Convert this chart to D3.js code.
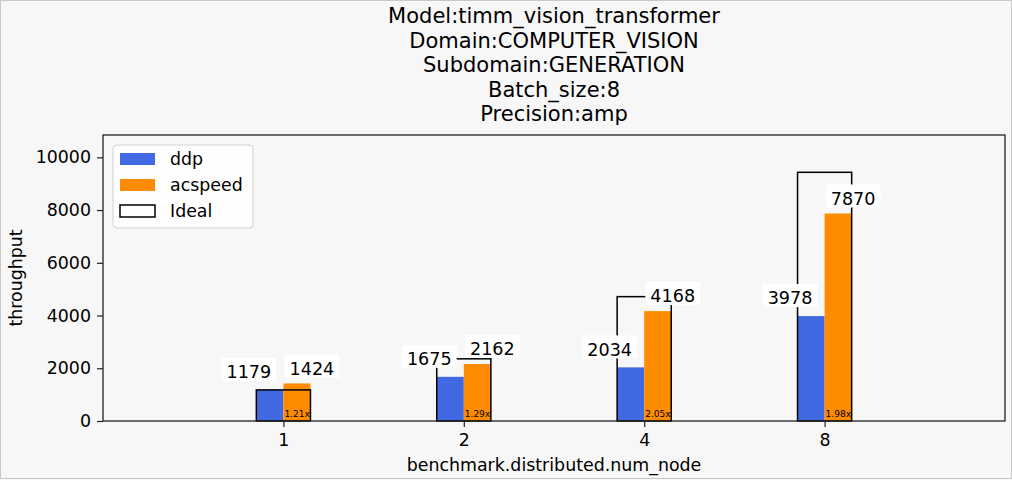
<!DOCTYPE html>
<html><head><meta charset="utf-8">
<script src="https://cdn.jsdelivr.net/npm/d3@7"></script>
<style>
body{margin:0;background:#f7f7f7}
svg text{font-family:"DejaVu Sans",sans-serif;fill:#000}
</style>
</head><body>
<svg id="c" width="1012" height="480"></svg>
<script>
const titleLines = ["Model:timm_vision_transformer","Domain:COMPUTER_VISION","Subdomain:GENERATION","Batch_size:8","Precision:amp"];
const categories = ["1","2","4","8"];
const nodes = [1,2,4,8];
const ddp = [1179,1675,2034,3978];
const acspeed = [1424,2162,4168,7870];
const yTicks = [0,2000,4000,6000,8000,10000];
const seriesNames = ["ddp","acspeed","Ideal"];
const colors = {ddp:"#4169e1", acspeed:"#ff8c00"};

const ideal = nodes.map(n => ddp[0]*n);
const ratio = acspeed.map((v,i) => (v/ddp[i]).toFixed(2) + "x");

const svg = d3.select("#c");
const L = 103, R = 1005, T = 135, B = 421;
const x = d3.scaleLinear().domain([-1,4]).range([L,R]);
const y = d3.scaleLinear().domain([0, d3.max(ideal)*1.15]).range([B,T]);
const bw = 0.15;

svg.append("rect").attr("x",0.5).attr("y",0.5).attr("width",1011).attr("height",478)
  .attr("fill","#f7f7f7").attr("stroke","#c8c8c8");

// title
svg.append("g").selectAll("text").data(titleLines).join("text")
  .attr("x",(L+R)/2).attr("y",(d,i)=>23+i*24.5)
  .attr("text-anchor","middle").style("font-size","21px").text(d=>d);

// bars
const g = svg.append("g");
g.selectAll("rect.ddp").data(ddp).join("rect").attr("class","ddp")
  .attr("x",(d,i)=>x(i-bw)).attr("width",x(bw)-x(0))
  .attr("y",d=>y(d)).attr("height",d=>B-y(d)).attr("fill",colors.ddp);
g.selectAll("rect.acs").data(acspeed).join("rect").attr("class","acs")
  .attr("x",(d,i)=>x(i)).attr("width",x(bw)-x(0))
  .attr("y",d=>y(d)).attr("height",d=>B-y(d)).attr("fill",colors.acspeed);

// ratio labels
g.selectAll("text.ratio").data(ratio).join("text").attr("class","ratio")
  .attr("x",(d,i)=>x(i)+1).attr("y",B-4).style("font-size","9px").text(d=>d);

// ideal rects
g.selectAll("rect.ideal").data(ideal).join("rect").attr("class","ideal")
  .attr("x",(d,i)=>x(i-bw)).attr("width",x(2*bw)-x(0))
  .attr("y",d=>y(d)).attr("height",d=>B-y(d))
  .attr("fill","none").attr("stroke","#000").attr("stroke-width",1.5);

// value labels with white boxes
function boxLabel(cx, cy, txt){
  const gg = svg.append("g");
  const r = gg.append("rect").attr("fill","#fff");
  const t = gg.append("text").attr("x",cx).attr("y",cy).attr("dy","0.36em")
    .attr("text-anchor","middle").style("font-size","17.6px").text(txt);
  const bb = t.node().getBBox();
  r.attr("x",bb.x-5).attr("y",cy-14).attr("width",bb.width+10).attr("height",23);
}
ddp.forEach((v,i)=>boxLabel(x(i-bw/2)-21, y(v)-18, String(v)));
acspeed.forEach((v,i)=>boxLabel(x(i+bw/2)+15, y(v)-15, String(v)));

// axes
const ya = svg.append("g").attr("transform",`translate(${L},0)`)
  .call(d3.axisLeft(y).tickValues(yTicks).tickSize(6).tickPadding(6).tickFormat(d3.format("d")));
const xa = svg.append("g").attr("transform",`translate(0,${B})`)
  .call(d3.axisBottom(x).tickValues(d3.range(categories.length)).tickSize(6).tickPadding(7).tickFormat(i=>categories[i]));
[ya,xa].forEach(a=>{
  a.select(".domain").remove();
  a.selectAll("line").attr("stroke","#222").attr("stroke-width",1.2);
  a.selectAll("text").style("font-size","17.4px").attr("fill","#000");
});
svg.append("rect").attr("x",L).attr("y",T).attr("width",R-L).attr("height",B-T)
  .attr("fill","none").attr("stroke","#222").attr("stroke-width",1.3);

// axis labels
svg.append("text").attr("x",(L+R)/2).attr("y",471).attr("text-anchor","middle")
  .style("font-size","17.4px").text("benchmark.distributed.num_node");
svg.append("text").attr("transform",`translate(22,${(T+B)/2}) rotate(-90)`).attr("text-anchor","middle")
  .style("font-size","17.4px").text("throughput");

// legend
const lg = svg.append("g");
lg.append("rect").attr("x",113).attr("y",145).attr("width",140).attr("height",83).attr("rx",4)
  .attr("fill","#fff").attr("fill-opacity",0.8).attr("stroke","#d0d0d0");
seriesNames.forEach((s,i)=>{
  const yy = 159 + i*26;
  const pr = lg.append("rect").attr("x",120).attr("y",yy-6).attr("width",35).attr("height",12);
  if (s==="Ideal") pr.attr("fill","none").attr("stroke","#000").attr("stroke-width",1.5);
  else pr.attr("fill",colors[s]);
  lg.append("text").attr("x",170).attr("y",yy).attr("dy","0.36em").style("font-size","17.4px").text(s);
});
</script>
</body></html>
